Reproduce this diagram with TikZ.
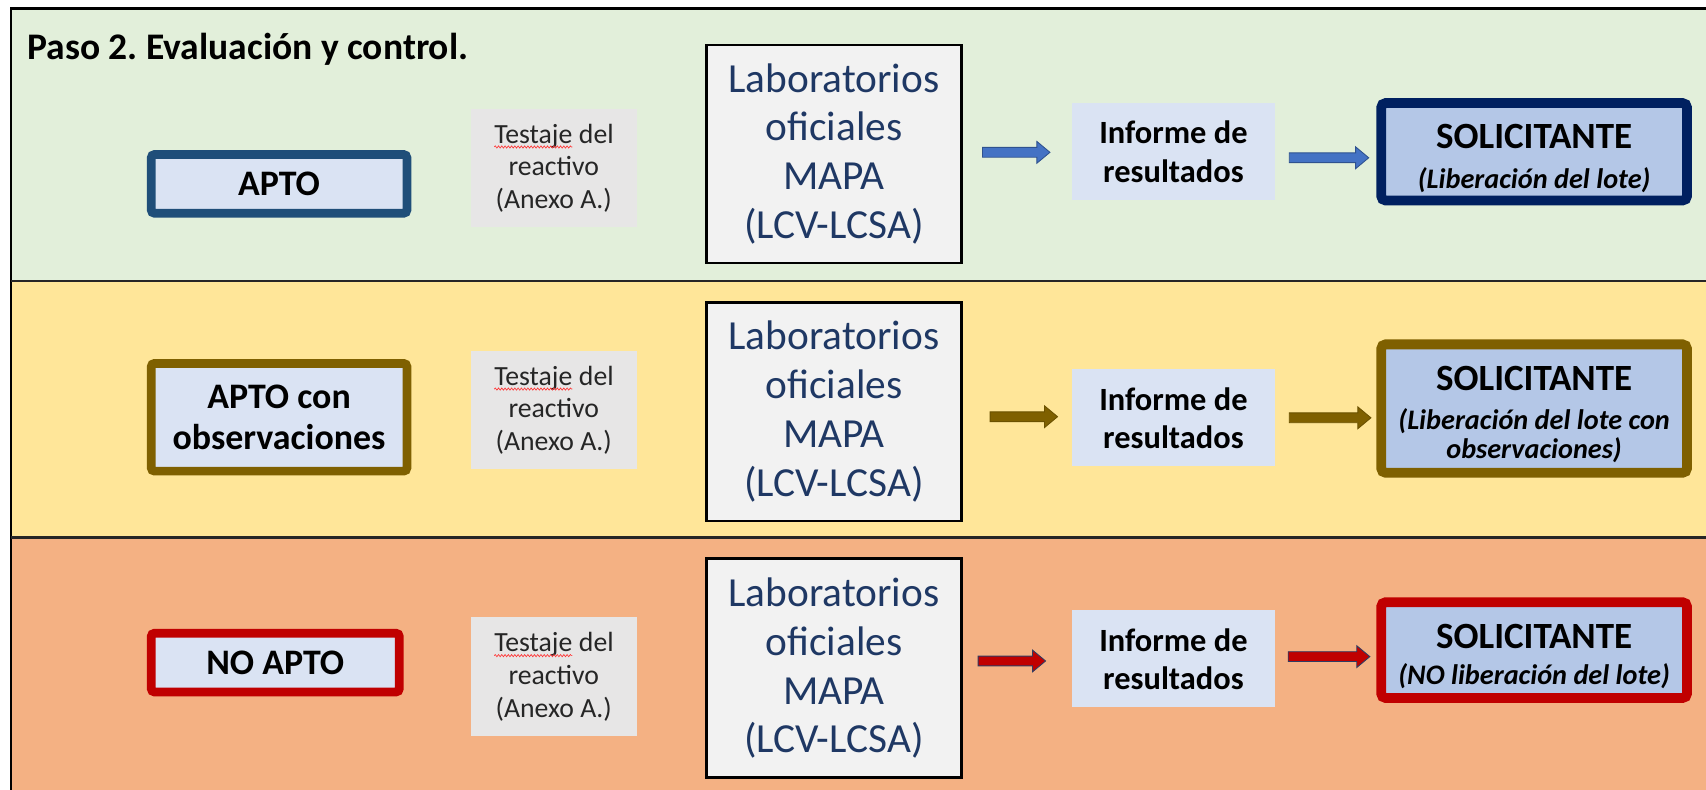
\documentclass[tikz,border=0pt]{standalone}
\usepackage{fontspec}
\setmainfont{Carlito}
\usetikzlibrary{calc,decorations.pathmorphing}
\definecolor{bgA}{HTML}{E2EFDA}
\definecolor{bgB}{HTML}{FFE699}
\definecolor{bgC}{HTML}{F4B183}
\definecolor{lblue}{HTML}{DAE3F3}
\definecolor{sfill}{HTML}{B4C7E7}
\definecolor{lgray}{HTML}{E7E6E6}
\definecolor{labfill}{HTML}{F2F2F2}
\definecolor{navytxt}{HTML}{1F3864}
\definecolor{tgray}{HTML}{262626}
\definecolor{cblue}{HTML}{1F4E79}
\definecolor{cnavy}{HTML}{002060}
\definecolor{cbrown}{HTML}{7F6000}
\definecolor{cred}{HTML}{C00000}
\definecolor{ablue}{HTML}{4472C4}
\definecolor{ablueD}{HTML}{2F528F}
\definecolor{abrownD}{HTML}{6B5100}
\definecolor{aredD}{HTML}{2E3C63}
\newcommand\squig[1]{\tikz[baseline=(sq.base)]{\node[inner sep=0pt,outer sep=0pt,minimum width=0pt,minimum height=0pt,fill=none,draw=none,text=tgray](sq){#1};\draw[red!80,line width=0.6pt,decorate,decoration={snake,amplitude=1pt,segment length=3pt}]([yshift=-3.5pt]sq.base west)--([yshift=-3.5pt]sq.base east);}}
\newcommand\barrow[4]{\filldraw[fill=#3,draw=#4,line width=0.8pt] let \p1=(#1),\p2=(#2) in (\x1,\y1+4.5pt) -- (\x2-12pt,\y1+4.5pt) -- (\x2-12pt,\y1+10pt) -- (\x2,\y1) -- (\x2-12pt,\y1-10pt) -- (\x2-12pt,\y1-4.5pt) -- (\x1,\y1-4.5pt) -- cycle;}
\newcommand\subf{\fontsize{26}{27.5}\selectfont\itshape}
\newcommand\solstrut{\rule{0pt}{34pt}}
\begin{document}
\frenchspacing
\begin{tikzpicture}[x=1pt,y=-1pt,
  statebox/.style={draw, line width=8pt, rounded corners=3pt, fill=lblue, align=center, inner sep=0pt,
    font=\fontsize{33}{38}\selectfont\bfseries},
  testbox/.style={fill=lgray, text=tgray, align=center, inner sep=0pt, minimum width=153pt, minimum height=109pt,
    font=\fontsize{25.5}{30}\selectfont},
  labbox/.style={draw=black, line width=2.5pt, fill=labfill, text=navytxt, align=center, inner sep=0pt,
    minimum width=234.5pt, font=\fontsize{38}{45}\selectfont},
  infbox/.style={fill=lblue, align=center, inner sep=0pt, minimum width=186pt, minimum height=89pt,
    font=\fontsize{29.8}{35}\selectfont\bfseries},
  solbox/.style={draw, line width=9pt, rounded corners=4pt, fill=sfill, align=center, inner sep=0pt,
    minimum width=281pt, font=\fontsize{34}{27.5}\selectfont\bfseries}
]
\useasboundingbox (0,0) rectangle (1568,726);
\fill[white] (0,0) rectangle (1568,726);
\fill[bgA] (10,8) rectangle (1568,258);
\fill[bgB] (10,258) rectangle (1568,494);
\fill[bgC] (10,494) rectangle (1568,726);
\draw[line width=2.5pt] (10,726) -- (10,8) -- (1568,8);
\draw[line width=2pt, black!85] (10,258) -- (1568,258);
\draw[line width=2pt, black!85] (10,494) -- (1568,494);

\node[anchor=west, inner sep=0pt, font=\fontsize{34.5}{40}\selectfont\bfseries] (title) at (25,45) {Paso 2. Evaluación y control.};

% Row 1
\node[statebox, draw=cblue, minimum width=235pt, minimum height=54pt] (apto1) at (256.5,169) {APTO};
\node[testbox] (test1) at (509,154.5) {\squig{Testaje} del\\reactivo\\(Anexo A.)};
\node[labbox, minimum height=200.5pt] (lab1) at (766.5,141.5) {Laboratorios\\oficiales\\MAPA\\(LCV-LCSA)};
\node[infbox] (inf1) at (1078.5,139.5) {Informe de\\resultados};
\node[solbox, draw=cnavy, minimum height=89.5pt] (sol1) at (1410,139.5) {\solstrut SOLICITANTE\\[9.5pt]\subf (Liberación del lote)};
\coordinate (a1s) at (903,140); \coordinate (a1e) at (965,140);
\coordinate (a2s) at (1185,145); \coordinate (a2e) at (1258,145);
\barrow{a1s}{a1e}{ablue}{ablueD}
\barrow{a2s}{a2e}{ablue}{ablueD}

% Row 2
\node[statebox, draw=cbrown, minimum width=235pt, minimum height=99pt] (apto2) at (256.5,383.5) {APTO con\\observaciones};
\node[testbox] (test2) at (509,377) {\squig{Testaje} del\\reactivo\\(Anexo A.)};
\node[labbox, minimum height=200.5pt] (lab2) at (766.5,378.5) {Laboratorios\\oficiales\\MAPA\\(LCV-LCSA)};
\node[infbox] (inf2) at (1078.5,384) {Informe de\\resultados};
\node[solbox, draw=cbrown, minimum height=118pt] (sol2) at (1410,375.5) {\solstrut SOLICITANTE\\[7.5pt]\subf (Liberación del lote con\\\subf observaciones)};
\coordinate (b1s) at (910,383); \coordinate (b1e) at (972,383);
\coordinate (b2s) at (1185,384); \coordinate (b2e) at (1260,384);
\barrow{b1s}{b1e}{cbrown}{abrownD}
\barrow{b2s}{b2e}{cbrown}{abrownD}

% Row 3
\node[statebox, draw=cred, minimum width=228pt, minimum height=54pt] (apto3) at (253,609) {NO APTO};
\node[testbox] (test3) at (509,622) {\squig{Testaje} del\\reactivo\\(Anexo A.)};
\node[labbox, minimum height=201.5pt] (lab3) at (766.5,614) {Laboratorios\\oficiales\\MAPA\\(LCV-LCSA)};
\node[infbox] (inf3) at (1078.5,605.5) {Informe de\\resultados};
\node[solbox, draw=cred, minimum height=88pt] (sol3) at (1410,597.5) {\solstrut SOLICITANTE\\[5.5pt]\subf (NO liberación del lote)};
\coordinate (c1s) at (899,607.5); \coordinate (c1e) at (961,607.5);
\coordinate (c2s) at (1184,603.5); \coordinate (c2e) at (1259,603.5);
\barrow{c1s}{c1e}{cred}{aredD}
\barrow{c2s}{c2e}{cred}{aredD}
\end{tikzpicture}
\end{document}
